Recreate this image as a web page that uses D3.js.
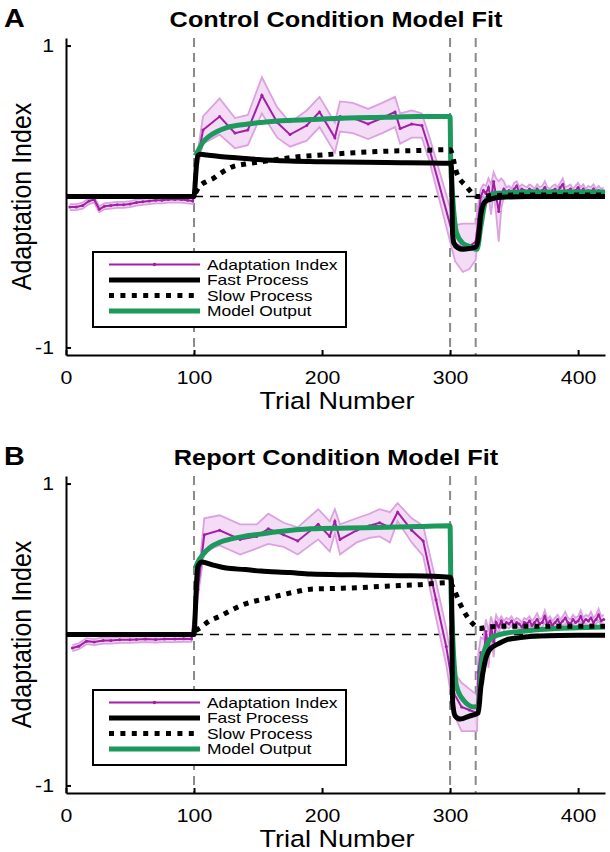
<!DOCTYPE html>
<html><head><meta charset="utf-8">
<script src="https://cdn.jsdelivr.net/npm/d3@7"></script>
<style>
body{margin:0;background:#fff}
svg{display:block}
text{font-family:"Liberation Sans",Arial,Helvetica,sans-serif;fill:#000}
</style>
</head><body>
<svg id="fig" width="610" height="852"></svg>
<script>
// ---------- shared labels / ticks ----------
const trialTicks = [0, 100, 200, 300, 400];
const indexTicks = [-1, 1];
const indexTickLabels = ["-1", "1"];
const epochEdges = [100, 300, 320];
const seriesNames = ["Adaptation Index", "Fast Process", "Slow Process", "Model Output"];
const panelTitles = ["Control Condition Model Fit", "Report Condition Model Fit"];
const panelLetters = ["A", "B"];
const xLabel = "Trial Number";
const yLabel = "Adaptation Index";

// ---------- Control condition (A) ----------
const ctrlBinTrials = [3,8,13,18,22,26,30,35,40,45,50,55,60,65,70,75,80,85,90,95,99,
  103,107,120,132,142,153,165,175,188,198,210,214,224,236,247,257,261,270,278,284,304,310,315,320];
const ctrlBinIndex = [-0.07,-0.07,-0.06,-0.03,-0.02,-0.085,-0.065,-0.06,-0.055,-0.055,-0.05,-0.04,-0.035,-0.03,-0.025,-0.025,-0.02,-0.02,-0.02,-0.025,-0.03,
  0.25,0.44,0.53,0.42,0.44,0.67,0.49,0.41,0.47,0.56,0.39,0.53,0.52,0.48,0.52,0.56,0.45,0.48,0.47,0.31,-0.31,-0.34,-0.33,-0.30];
const ctrlBinErr = [0.02,0.02,0.02,0.02,0.02,0.02,0.02,0.02,0.02,0.02,0.02,0.02,0.02,0.02,0.02,0.02,0.02,0.02,0.02,0.02,0.02,
  0.05,0.09,0.12,0.10,0.10,0.12,0.10,0.08,0.10,0.10,0.10,0.10,0.10,0.10,0.10,0.10,0.10,0.09,0.08,0.08,0.12,0.16,0.15,0.12];
const ctrlClampTrials = [322,324,326,328,330,332,334,336,338,340,342,344,346,348,350,352,354,356,358,360,
  362,364,366,368,370,372,374,376,378,380,382,384,386,388,390,392,394,396,398,400,
  402,404,406,408,410,412,414,416,418,420];
const ctrlClampIndex = [-0.15,0.00,0.04,0.02,0.06,-0.02,0.10,0.00,-0.10,0.02,0.05,0.03,0.04,0.02,0.05,0.07,0.03,0.05,0.04,0.03,
  0.05,0.04,0.02,0.05,0.03,0.04,0.06,0.03,0.02,0.04,0.05,0.03,0.06,0.08,0.03,0.04,0.05,0.02,0.04,0.06,
  0.03,0.05,0.02,0.04,0.03,0.05,0.02,0.04,0.02,0.03];
const ctrlClampErr = [0.10,0.05,0.04,0.05,0.06,0.10,0.06,0.12,0.20,0.10,0.05,0.03,0.03,0.03,0.04,0.03,0.03,0.03,0.03,0.03,
  0.03,0.03,0.03,0.03,0.03,0.03,0.04,0.03,0.03,0.03,0.03,0.03,0.03,0.04,0.03,0.03,0.03,0.03,0.03,0.03,
  0.03,0.03,0.03,0.03,0.03,0.03,0.03,0.03,0.03,0.03];
const ctrlFastTrials = [0,100,101,102,103,105,110,120,135,150,175,200,250,300,301,302,303,306,310,315,320,322,324,326,328,331,335,340,360,421];
const ctrlFastValues = [0,0,0.10,0.22,0.27,0.28,0.275,0.265,0.255,0.245,0.235,0.23,0.225,0.22,0.20,-0.25,-0.31,-0.34,-0.35,-0.345,-0.335,-0.28,-0.12,-0.05,-0.03,-0.02,-0.01,-0.005,0,0];
const ctrlSlowTrials = [0,100,101,104,110,115,120,131,140,152,165,178,200,225,250,275,300,305,313,321,330,360,421];
const ctrlSlowValues = [0,0,0.02,0.065,0.10,0.12,0.15,0.20,0.215,0.23,0.245,0.26,0.275,0.29,0.30,0.305,0.31,0.16,0.065,0.0,0.005,0.01,0.01];
const ctrlModelTrials = [101,103,107,112,118,125,133,142,152,165,191,220,250,275,300,300.5,302,305,310,315,321,324,327,330,335,345,360,421];
const ctrlModelValues = [0.27,0.30,0.36,0.40,0.43,0.455,0.47,0.48,0.49,0.50,0.51,0.52,0.525,0.53,0.53,0.22,0.0,-0.24,-0.31,-0.33,-0.35,-0.2,-0.05,0.0,0.02,0.025,0.03,0.03];

// ---------- Report condition (B) ----------
const repBinTrials = [5,10,16,22,29,35,42,50,55,62,70,77,85,92,98,
  103,108,120,136,149,158,170,181,197,206,210,214,227,237,245,253,259,270,279,289,297,303,309,315,321];
const repBinIndex = [-0.09,-0.078,-0.044,-0.05,-0.04,-0.04,-0.035,-0.035,-0.033,-0.03,-0.033,-0.03,-0.03,-0.028,-0.029,
  0.30,0.66,0.69,0.63,0.65,0.70,0.66,0.62,0.73,0.65,0.75,0.63,0.69,0.72,0.74,0.71,0.81,0.69,0.62,0.23,-0.08,-0.39,-0.48,-0.50,-0.52];
const repBinErr = [0.02,0.02,0.02,0.02,0.02,0.02,0.02,0.02,0.02,0.02,0.02,0.02,0.02,0.02,0.02,
  0.05,0.11,0.10,0.10,0.08,0.10,0.08,0.09,0.10,0.10,0.08,0.10,0.08,0.08,0.09,0.10,0.06,0.08,0.10,0.12,0.12,0.14,0.16,0.14,0.12];
const repClampTrials = [322,324,326,328,330,332,334,336,338,340,342,344,346,348,350,352,354,356,358,360,
  362,364,366,368,370,372,374,376,378,380,382,384,386,388,390,392,394,396,398,400,
  402,404,406,408,410,412,414,416,418,420];
const repClampIndex = [-0.25,-0.12,-0.18,0.02,-0.10,0.06,-0.05,0.08,0.05,0.09,0.06,0.08,0.07,0.09,0.06,0.08,0.07,0.05,0.08,0.07,
  0.09,0.06,0.08,0.10,0.07,0.08,0.12,0.07,0.09,0.06,0.08,0.10,0.07,0.09,0.11,0.08,0.07,0.10,0.08,0.09,
  0.12,0.08,0.10,0.09,0.11,0.08,0.10,0.13,0.09,0.10];
const repClampErr = [0.12,0.10,0.15,0.08,0.12,0.06,0.10,0.05,0.04,0.03,0.03,0.03,0.03,0.03,0.03,0.03,0.03,0.03,0.03,0.03,
  0.03,0.03,0.03,0.04,0.03,0.03,0.04,0.03,0.03,0.03,0.03,0.03,0.03,0.03,0.04,0.03,0.03,0.03,0.03,0.03,
  0.04,0.03,0.03,0.03,0.04,0.03,0.03,0.04,0.03,0.03];
const repFastTrials = [0,100,101,102,103,106,115,125,140,152,175,191,225,260,300,301,302,304,308,315,322,324,327,331,338,344,355,370,400,421];
const repFastValues = [0,0,0.15,0.35,0.45,0.48,0.46,0.44,0.43,0.42,0.41,0.40,0.395,0.39,0.38,0.36,-0.45,-0.54,-0.56,-0.54,-0.52,-0.35,-0.19,-0.10,-0.06,-0.035,-0.02,-0.01,-0.005,-0.005];
const repSlowTrials = [0,100,101,105,112,120,130,139,152,165,178,191,210,227,250,275,300,303,308,317,323,330,345,421];
const repSlowValues = [0,0,0.02,0.045,0.09,0.12,0.165,0.20,0.23,0.255,0.28,0.30,0.305,0.31,0.32,0.33,0.343,0.30,0.20,0.078,0.04,0.05,0.055,0.055];
const repModelTrials = [101,103,107,113,120,130,139,152,165,191,220,250,275,300,300.5,302,305,310,319,322,325,328,331,337,344,355,370,400,421];
const repModelValues = [0.44,0.48,0.53,0.58,0.61,0.635,0.65,0.665,0.68,0.70,0.705,0.71,0.715,0.72,0.39,0.0,-0.34,-0.43,-0.48,-0.47,-0.17,-0.08,-0.033,-0.005,0.01,0.02,0.033,0.045,0.05];

// ---------- styling ----------
const PURPLE = "#a21fa6", BAND = "#f3d7f5", BAND_EDGE = "#dba2e0", GREEN = "#1b9a5c", GRAY = "#8a8a8a";
const SX = 1.15;

const svg = d3.select("#fig");
const x = d3.scaleLinear().domain([0, 421]).range([66, 605]);

const panels = [
  {top: 38, title: panelTitles[0], letter: panelLetters[0],
   binT: ctrlBinTrials, binV: ctrlBinIndex, binE: ctrlBinErr,
   clT: ctrlClampTrials, clV: ctrlClampIndex, clE: ctrlClampErr,
   fT: ctrlFastTrials, fV: ctrlFastValues, sT: ctrlSlowTrials, sV: ctrlSlowValues, mT: ctrlModelTrials, mV: ctrlModelValues},
  {top: 476, title: panelTitles[1], letter: panelLetters[1],
   binT: repBinTrials, binV: repBinIndex, binE: repBinErr,
   clT: repClampTrials, clV: repClampIndex, clE: repClampErr,
   fT: repFastTrials, fV: repFastValues, sT: repSlowTrials, sV: repSlowValues, mT: repModelTrials, mV: repModelValues}
];

function zip(ts, vs, es) { return ts.map((t, i) => ({t, v: vs[i], e: es ? es[i] : 0})); }

panels.forEach(p => {
  const bottom = p.top + 317;
  const y = d3.scaleLinear().domain([-1.05, 1.05]).range([bottom, p.top]);
  const g = svg.append("g");

  // epoch boundaries
  g.selectAll(".epoch").data(epochEdges).join("line")
    .attr("x1", d => x(d)).attr("x2", d => x(d))
    .attr("y1", p.top).attr("y2", bottom)
    .attr("stroke", GRAY).attr("stroke-width", 2).attr("stroke-dasharray", "9,6");

  // zero reference
  g.append("line").attr("x1", x(100)).attr("x2", x(421)).attr("y1", y(0)).attr("y2", y(0))
    .attr("stroke", "#000").attr("stroke-width", 1.6).attr("stroke-dasharray", "9,7");

  const data = zip(p.binT, p.binV, p.binE).concat(zip(p.clT, p.clV, p.clE));

  // error band
  g.append("path").datum(data)
    .attr("d", d3.area().x(d => x(d.t)).y0(d => y(d.v - d.e)).y1(d => y(d.v + d.e)))
    .attr("fill", BAND).attr("opacity", 0.9);
  [-1, 1].forEach(s => {
    g.append("path").datum(data)
      .attr("d", d3.line().x(d => x(d.t)).y(d => y(d.v + s * d.e)))
      .attr("fill", "none").attr("stroke", BAND_EDGE).attr("stroke-width", 1.8);
  });
  // mean line
  g.append("path").datum(data)
    .attr("d", d3.line().x(d => x(d.t)).y(d => y(d.v)))
    .attr("fill", "none").attr("stroke", PURPLE).attr("stroke-width", 2);
  g.selectAll(".mk").data(data).join("circle")
    .attr("cx", d => x(d.t)).attr("cy", d => y(d.v)).attr("r", 1.5).attr("fill", PURPLE);

  const curve = d3.line().x(d => x(d.t)).y(d => y(d.v)).curve(d3.curveMonotoneX);
  // model output
  g.append("path").datum(zip(p.mT, p.mV)).attr("d", curve)
    .attr("fill", "none").attr("stroke", GREEN).attr("stroke-width", 5);
  // fast
  g.append("path").datum(zip(p.fT, p.fV)).attr("d", curve)
    .attr("fill", "none").attr("stroke", "#000").attr("stroke-width", 5).attr("stroke-linejoin", "round");
  // slow
  g.append("path").datum(zip(p.sT, p.sV)).attr("d", curve)
    .attr("fill", "none").attr("stroke", "#000").attr("stroke-width", 5).attr("stroke-dasharray", "5,6");

  // axes
  const xa = g.append("g").attr("transform", `translate(0,${bottom})`)
    .call(d3.axisBottom(x).tickValues(trialTicks).tickSizeInner(-5).tickSizeOuter(0).tickPadding(16).tickFormat(d3.format("d")));
  const ya = g.append("g").attr("transform", `translate(66,0)`)
    .call(d3.axisLeft(y).tickValues(indexTicks).tickSizeInner(-5).tickSizeOuter(0).tickPadding(12)
      .tickFormat((d, i) => indexTickLabels[i]));
  [xa, ya].forEach(a => {
    a.select(".domain").attr("stroke", "#000").attr("stroke-width", 2);
    a.selectAll(".tick line").attr("stroke", "#000").attr("stroke-width", 2);
    a.selectAll(".tick text").attr("font-size", 18.5).attr("fill", "#000")
      .attr("font-family", '"Liberation Sans",Arial,sans-serif')
      .attr("transform", `scale(${SX},1)`);
  });
  ya.selectAll(".tick text").attr("x", -12 / SX);

  // titles and labels
  g.append("text").attr("transform", `translate(336,${p.top - 11}) scale(${SX},1)`)
    .attr("text-anchor", "middle").attr("font-weight", "bold").attr("font-size", 22).text(p.title);
  g.append("text").attr("transform", `translate(4,${p.top - 11}) scale(${SX},1)`)
    .attr("font-weight", "bold").attr("font-size", 25).text(p.letter);
  g.append("text").attr("transform", `translate(337,${bottom + 54}) scale(${SX},1)`)
    .attr("text-anchor", "middle").attr("font-size", 23.5).text(xLabel);
  g.append("text").attr("transform", `translate(31,${(p.top + bottom) / 2}) rotate(-90) scale(1,1.1)`)
    .attr("text-anchor", "middle").attr("font-size", 25).text(yLabel);

  // legend
  const lx = 93, ly = p.top + 214;
  const lg = g.append("g");
  lg.append("rect").attr("x", lx).attr("y", ly).attr("width", 253).attr("height", 75)
    .attr("fill", "#fff").attr("stroke", "#000").attr("stroke-width", 2);
  const styles = [
    {stroke: PURPLE, w: 2, dash: null},
    {stroke: "#000", w: 5, dash: null},
    {stroke: "#000", w: 5, dash: "5,6.4"},
    {stroke: GREEN, w: 5, dash: null}
  ];
  seriesNames.forEach((name, i) => {
    const by = ly + 17.5 + i * 15.5;
    const st = styles[i];
    const ln = lg.append("line").attr("x1", 109).attr("x2", 200).attr("y1", by - 5).attr("y2", by - 5)
      .attr("stroke", st.stroke).attr("stroke-width", st.w);
    if (st.dash) ln.attr("stroke-dasharray", st.dash);
    if (i === 0) lg.append("circle").attr("cx", 154.5).attr("cy", by - 5).attr("r", 1.8).attr("fill", PURPLE);
    lg.append("text").attr("transform", `translate(207,${by}) scale(1.16,1)`)
      .attr("font-size", 15).text(name);
  });
});
</script>
</body></html>
